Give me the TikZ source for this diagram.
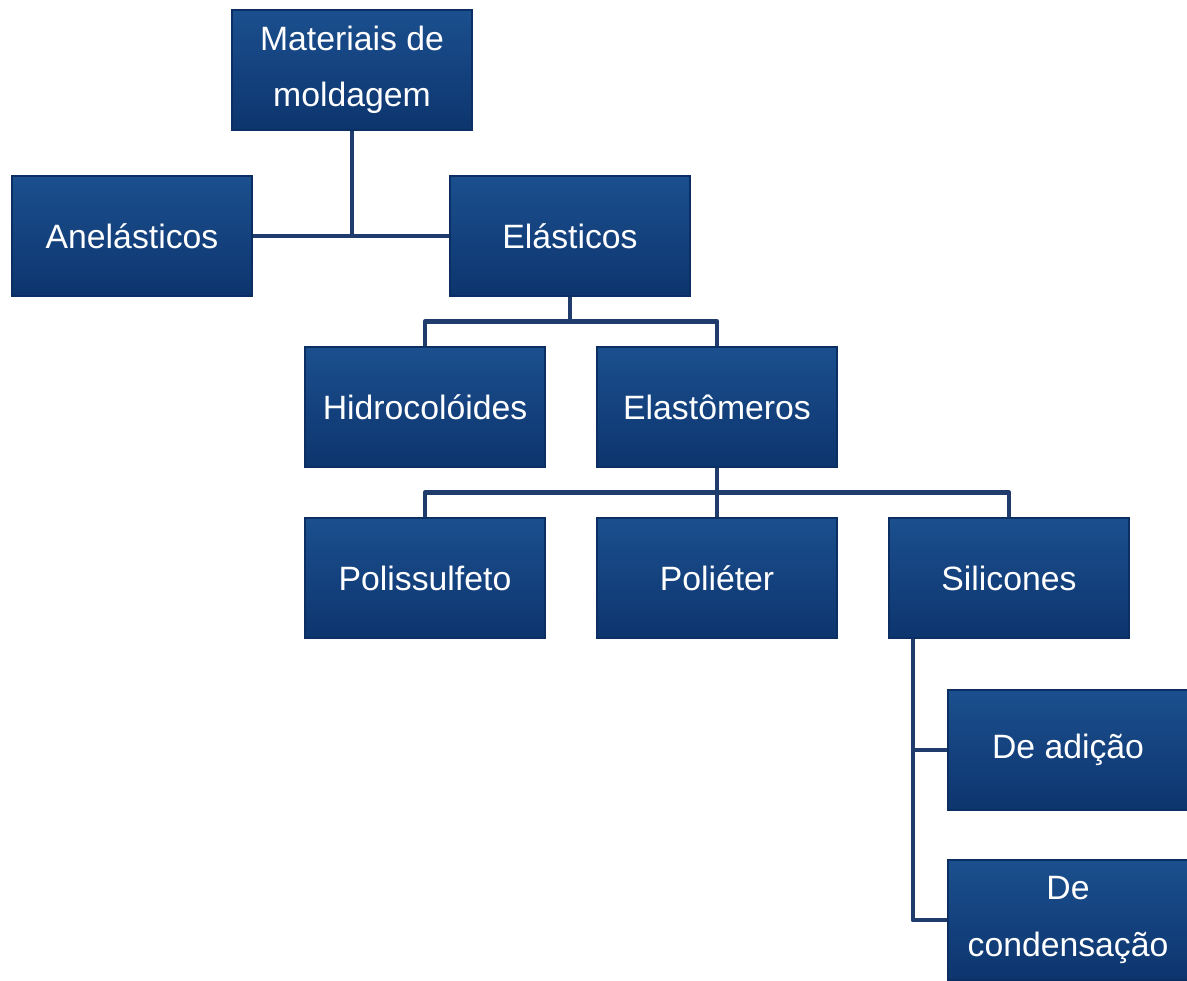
\documentclass[tikz,border=0pt]{standalone}
\usepackage{fontspec}
\setmainfont{Liberation Sans}
\usetikzlibrary{positioning}
\definecolor{boxtop}{HTML}{1B4F8E}
\definecolor{boxbot}{HTML}{0D356E}
\definecolor{boxedge}{HTML}{0B2F63}
\definecolor{linkcol}{HTML}{1F3C6C}

\begin{document}
\begin{tikzpicture}[x=0.025cm, y=-0.025cm,
                bluebox/.style={rectangle, minimum width=6cm, minimum height=3cm, top color=boxtop, bottom color=boxbot, draw=boxedge, thick, text=white, align=center, font=\fontsize{24}{40}\selectfont,
                    path picture={
                        \draw[white!70!boxtop, line width=2pt] (path picture bounding box.south west) -- (path picture bounding box.north west) -- (path picture bounding box.north east);
                        \draw[cyan!30!white, line width=1.5pt] (path picture bounding box.north east) -- (path picture bounding box.south east);
                    }},
                link/.style={draw=linkcol, line width=3.5pt, line join=round},
                ]

                \useasboundingbox (0,0) rectangle (1187,980);

                \node[bluebox] (mat) at (352,70) {Materiais de\\moldagem};
                \node[bluebox] (anel) at (132,236) {Anelásticos};
                \node[bluebox] (elas) at (570,236) {Elásticos};
                \node[bluebox] (hidro) at (425,407) {Hidrocolóides};
                \node[bluebox] (elast) at (717,407) {Elastômeros};
                \node[bluebox] (polis) at (425,578) {Polissulfeto};
                \node[bluebox] (polie) at (717,578) {Poliéter};
                \node[bluebox] (sili) at (1009,578) {Silicones};
                \node[bluebox] (adic) at (1068,750) {De adição};
                \node[bluebox] (cond) at (1068,920) {De\\condensação};

                % connectors
                \draw[link] (mat.south) -- (mat.south |- anel.east);
                \draw[link] (anel.east) -- (elas.west);
                \draw[link] (elas.south) -- ++(0,25) coordinate (e1);
                \draw[link] (hidro.north) -- (hidro.north |- e1) -- (elast.north |- e1) -- (elast.north);
                \draw[link] (elast.south) -- ++(0,25) coordinate (e2);
                \draw[link] (polis.north) -- (polis.north |- e2) -- (sili.north |- e2) -- (sili.north);
                \draw[link] (polie.north) -- (polie.north |- e2);
                \draw[link] ([xshift=-2.4cm]sili.south) coordinate (s1) -- (s1 |- cond.west) -- (cond.west);
                \draw[link] (s1 |- adic.west) -- (adic.west);
\end{tikzpicture}
\end{document}
